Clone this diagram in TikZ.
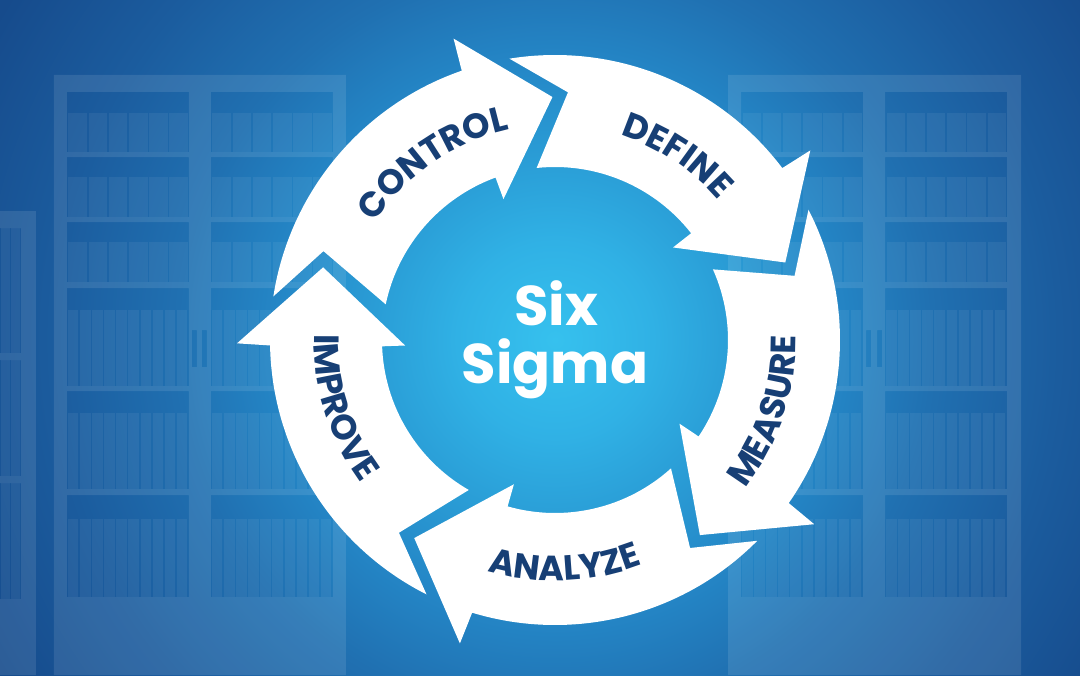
\documentclass[tikz,border=0pt]{standalone}
\usepackage{fontspec}
\newfontfamily\phasefont{Poppins}
\usetikzlibrary{decorations.text}

\definecolor{ssCore}{HTML}{36C1EE}
\definecolor{ssGlow}{HTML}{30B1E5}
\definecolor{ssMid}{HTML}{2A9DD6}
\definecolor{ssOuter}{HTML}{2486C6}
\definecolor{ssDeep}{HTML}{2070B1}
\definecolor{ssDark}{HTML}{1B5C9E}
\definecolor{ssNavy}{HTML}{164B8C}
\definecolor{ssLabel}{HTML}{173F75}

\pgfdeclareradialshading{ssBackdrop}{\pgfpoint{0bp}{0bp}}{%
    color(0bp)=(ssCore); color(3.5bp)=(ssGlow); color(6.5bp)=(ssMid);
    color(10bp)=(ssOuter); color(13.5bp)=(ssDeep); color(18bp)=(ssDark);
    color(23bp)=(ssNavy); color(50bp)=(ssNavy)}

\tikzset{
    CYCLE_ARROW/.style={fill=white},
    SHELF_FRAME/.style={fill=white, fill opacity=0.1, even odd rule},
    BOOK/.style={fill=white, fill opacity=0.06},
    PHASE_LABEL/.style={decorate, decoration={text along path,
        text align=center, text color=ssLabel,
        text={|\phasefont\bfseries\fontsize{17.5}{20}\selectfont|#1}}},
    TITLE_TEXT/.style={text=white, inner sep=0pt, anchor=base,
        font={\phasefont\bfseries\fontsize{28}{30}\selectfont}}
}

\begin{document}
\begin{tikzpicture}[x=0.5pt, y=0.5pt]
    \useasboundingbox (-555,-335) rectangle (525,340);
    \begin{scope}
        \clip (-555,-335) rectangle (525,340);
        \shade[shading=ssBackdrop] (-700,-700) rectangle (700,700);
        % shelves
        \fill[SHELF_FRAME] (-501,-335) rectangle (-209,265)
            \foreach \top/\bot in {248/188, 183/123, 118/58, 52/-46, -51/-149, -155/-257}{
                (-488,\top) rectangle (-366,\bot) (-344,\top) rectangle (-222,\bot)}
            (-363,10) rectangle (-358,-27) (-353,10) rectangle (-348,-27);
        \fill[SHELF_FRAME] (173,-335) rectangle (466,265)
            \foreach \top/\bot in {248/188, 183/123, 118/58, 52/-46, -51/-149, -155/-257}{
                (186,\top) rectangle (308,\bot) (330,\top) rectangle (452,\bot)}
            (311,10) rectangle (316,-27) (322,10) rectangle (327,-27);
        \fill[SHELF_FRAME] (-555,-335) rectangle (-519,129)
            (-555,112) rectangle (-534,-13) (-555,-20) rectangle (-534,-136)
            (-555,-143) rectangle (-534,-259);
        % books
        \foreach \col in {-488,-344,186,330}{
            \foreach \top/\bot in {227/188, 163/123, 98/58}{
                \foreach \i in {0,...,5}
                    \fill[BOOK] ({\col+1.5+20.2*\i},\bot) rectangle ++(18.5,{\top-\bot});
            }
            \foreach \top/\bot in {30/-46, -73/-149, -179/-257}{
                \foreach \i in {0,...,9}
                    \fill[BOOK] ({\col+1+12.1*\i},\bot) rectangle ++(10.5,{\top-\bot});
            }
        }
        \foreach \top/\bot in {112/-13, -20/-136, -143/-259}{
            \foreach \i in {0,1}
                \fill[BOOK] ({-555+1+10.5*\i},\bot) rectangle ++(9,{\top-\bot});
        }
    \end{scope}

    % CONTROL
    \fill[CYCLE_ARROW] (171.2:285) arc[start angle=171.2, end angle=109.1, radius=285]
        -- (108.6:318) -- (90.6:243) -- (110.1:150) -- (110.1:173)
        arc[start angle=110.1, end angle=168.1, radius=173] -- (159.0:248) -- cycle;
    % DEFINE
    \fill[CYCLE_ARROW] (99.2:285) arc[start angle=99.2, end angle=37.1, radius=285]
        -- (36.6:318) -- (18.6:243) -- (38.1:150) -- (38.1:173)
        arc[start angle=38.1, end angle=96.1, radius=173] -- (87.0:248) -- cycle;
    % MEASURE
    \fill[CYCLE_ARROW] (27.2:285) arc[start angle=27.2, end angle=-34.9, radius=285]
        -- (-35.4:318) -- (-53.4:243) -- (-33.9:150) -- (-33.9:173)
        arc[start angle=-33.9, end angle=24.1, radius=173] -- (15.0:248) -- cycle;
    % ANALYZE
    \fill[CYCLE_ARROW] (-44.8:285) arc[start angle=-44.8, end angle=-106.9, radius=285]
        -- (-107.4:318) -- (-125.4:243) -- (-105.9:150) -- (-105.9:173)
        arc[start angle=-105.9, end angle=-47.9, radius=173] -- (-57.0:248) -- cycle;
    % IMPROVE
    \fill[CYCLE_ARROW] (243.2:285) arc[start angle=243.2, end angle=181.1, radius=285]
        -- (180.6:318) -- (162.6:243) -- (182.1:150) -- (182.1:173)
        arc[start angle=182.1, end angle=240.1, radius=173] -- (231.0:248) -- cycle;

    % labels
    \path[PHASE_LABEL=CONTROL] (174.5:215) arc[start angle=174.5, end angle=74.5, radius=215];
    \path[PHASE_LABEL=DEFINE] (106.5:215) arc[start angle=106.5, end angle=6.5, radius=215];
    \path[PHASE_LABEL=MEASURE] (-68.5:241) arc[start angle=-68.5, end angle=31.5, radius=241];
    \path[PHASE_LABEL=ANALYZE] (-137.5:241) arc[start angle=-137.5, end angle=-37.5, radius=241];
    \path[PHASE_LABEL=IMPROVE] (147.5:241) arc[start angle=147.5, end angle=247.5, radius=241];

    \node[TITLE_TEXT] (six) at (1,15) {Six};
    \node[TITLE_TEXT] (sigma) at (0,-43) {Sigma};
\end{tikzpicture}
\end{document}
